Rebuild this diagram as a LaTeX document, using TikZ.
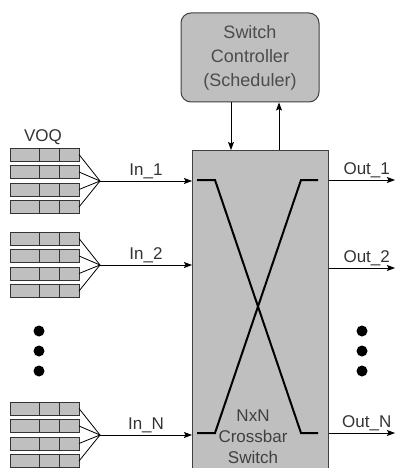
\documentclass[tikz,border=0pt]{standalone}
\usepackage{fontspec}
\setmainfont{Liberation Sans}
\usepackage{tikz}
\usetikzlibrary{arrows.meta, positioning, calc}
\tikzset{
	ctlbox/.style={rectangle, draw=black!75, line width=1pt, fill=black!25, rounded corners=10pt,
		minimum width=138, minimum height=89, align=center, text=black!70,
		font=\fontsize{18}{24}\selectfont},
	xbox/.style={rectangle, draw=black!75, line width=1.2pt, fill=black!25,
		minimum width=136, minimum height=330, anchor=north west},
	xtext/.style={align=center, text=black!75, font=\fontsize{17}{21}\selectfont},
	cell/.style={rectangle, draw=black!80, line width=1pt, fill=black!25,
		minimum height=13, inner sep=0pt, outer sep=0pt},
	arr/.style={-{Stealth[length=8pt, width=6pt, inset=1.5pt]}, line width=0.9pt},
	fan/.style={line width=0.8pt},
	xline/.style={line width=2pt},
	lbl/.style={font=\fontsize{17}{20}\selectfont, text=black!80, inner sep=2pt},
}

\begin{document}
\begin{tikzpicture}[x=1pt, y=-1pt]
	\clip (0,0) rectangle (396,468);
	\node[ctlbox] (ctl) at (250,57.5) {Switch\\Controller\\(Scheduler)};
	\node[xbox] (xbar) at (192,150) {};
	\node[xtext] (xlbl) at (253,437) {NxN\\Crossbar\\Switch};
	\node[lbl] (voq) at (43,137) {VOQ};
	
	% crossbar paths
	\draw[xline] (197,180) -- (215,180) -- (301,433) -- (318,433);
	\draw[xline] (197,433) -- (215,433) -- (301,180) -- (318,180);
	
	% scheduler <-> switch
	\coordinate (dn) at ([xshift=-19pt]ctl.south);
	\coordinate (up) at ([xshift=29pt]ctl.south);
	\draw[arr] (dn) -- (dn |- xbar.north);
	\draw[arr] (up |- xbar.north) -- (up);
	
	% input queues
	\foreach \s/\ty/\n in {1/148/1, 2/232/2, 3/402/N} {
		\foreach \r in {0,...,3} {
			\pgfmathsetmacro{\y}{\ty+17.5*\r}
			\node[cell, minimum width=29, anchor=north west] (a\s\r) at (10,\y) {};
			\node[cell, minimum width=20, right=0pt of a\s\r] (b\s\r) {};
			\node[cell, minimum width=20, right=0pt of b\s\r] (c\s\r) {};
		}
		\coordinate (f\s) at (100,\ty+33);
		\foreach \r in {0,...,3}
			\draw[fan] (c\s\r.east) -- (f\s);
		\draw[arr] (f\s) -- node[lbl, above] {In\_\n} (f\s -| xbar.west);
	}
	
	% outputs
	\foreach \s/\y/\n in {1/180/1, 2/268/2, 3/433/N} {
		\coordinate (o\s) at (395,\y);
		\draw[arr] (o\s -| xbar.east) -- node[lbl, above, pos=0.57] {Out\_\n} (o\s);
	}
	
	\foreach \x in {39,362}
		\foreach \y in {331,351,371}
			\fill (\x,\y) circle[radius=5.5pt];
\end{tikzpicture}
\end{document}
